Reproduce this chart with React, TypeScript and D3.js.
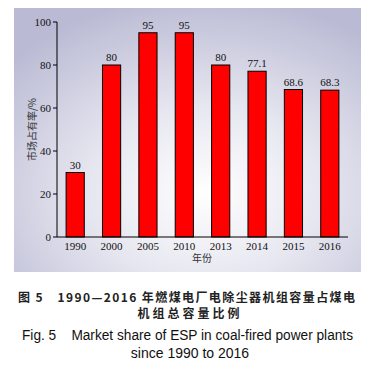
import React from 'react';
import * as d3 from 'd3';

const years = ['1990', '2000', '2005', '2010', '2013', '2014', '2015', '2016'];
const shares = [30, 80, 95, 95, 80, 77.1, 68.6, 68.3];
const shareLabels = ['30', '80', '95', '95', '80', '77.1', '68.6', '68.3'];
const yTicks = [0, 20, 40, 60, 80, 100];

const W = 381;
const H = 368;

const App: React.FC = () => {
  const x = d3.scaleBand<string>().domain(years).range([57, 348]).paddingInner(0.5).paddingOuter(0.25);
  const y = d3.scaleLinear().domain([0, 100]).range([237, 22]);
  const serif = '"Liberation Serif", "DejaVu Serif", serif';

  return (
    <svg width={W} height={H} style={{ position: 'absolute', left: 0, top: 0 }}>
      <defs>
        <radialGradient id="bg" cx="0.55" cy="0.7" r="0.75">
          <stop offset="0" stopColor="#ffffff" />
          <stop offset="0.45" stopColor="#e6e6f0" />
          <stop offset="1" stopColor="#babad4" />
        </radialGradient>
      </defs>
      <rect width={W} height={H} fill="#fff" />
      <rect x={14} y={8} width={347} height={264} fill="url(#bg)" />

      {/* bars */}
      {years.map((yr, i) => (
        <g key={yr}>
          <rect
            x={x(yr)!}
            y={y(shares[i])}
            width={x.bandwidth()}
            height={y(0) - y(shares[i])}
            fill="#ff0000"
            stroke="#000"
            strokeWidth={1}
          />
          <text
            x={x(yr)! + x.bandwidth() / 2}
            y={y(shares[i]) - 4}
            textAnchor="middle"
            fontFamily={serif}
            fontSize={11}
            fill="#111"
          >
            {shareLabels[i]}
          </text>
          <text
            x={x(yr)! + x.bandwidth() / 2}
            y={250}
            textAnchor="middle"
            fontFamily={serif}
            fontSize={11}
            fill="#111"
          >
            {yr}
          </text>
        </g>
      ))}

      {/* axes */}
      <line x1={57} x2={57} y1={y(100)} y2={y(0)} stroke="#000" strokeWidth={1} />
      <line x1={57} x2={348} y1={y(0)} y2={y(0)} stroke="#000" strokeWidth={1} />
      {yTicks.map((t) => (
        <g key={t}>
          <line x1={53} x2={57} y1={y(t)} y2={y(t)} stroke="#000" />
          <text
            x={51}
            y={y(t)}
            dy="0.35em"
            textAnchor="end"
            fontFamily={serif}
            fontSize={11}
            fill="#111"
          >
            {t}
          </text>
        </g>
      ))}
      <text
        transform={`translate(32,${(y(0) + y(100)) / 2}) rotate(-90)`}
        textAnchor="middle"
        dy="0.35em"
        fontFamily={'"Noto Sans CJK SC", serif'}
        fontSize={10}
        fill="#333"
      >
        市场占有率/%
      </text>
      <text x={202} y={262} textAnchor="middle" fontFamily={'"Noto Sans CJK SC", serif'} fontSize={10} fill="#333">
        年份
      </text>

      {/* caption */}
      <text
        x={18}
        y={302}
        fontFamily={'"Noto Sans CJK SC", sans-serif'}
        fontWeight="bold"
        fontSize={12}
        fill="#222"
        textLength={337}
        lengthAdjust="spacing"
      >
        图 5{'\u3000'}1990—2016 年燃煤电厂电除尘器机组容量占煤电
      </text>
      <text
        x={190}
        y={318}
        textAnchor="middle"
        fontFamily={'"Noto Sans CJK SC", sans-serif'}
        fontWeight="bold"
        fontSize={12}
        fill="#222"
        letterSpacing={3}
      >
        机组总容量比例
      </text>
      <text
        x={22}
        y={340}
        fontFamily={'"Liberation Sans", Arial, sans-serif'}
        fontSize={14}
        fill="#111"
        textLength={331}
        lengthAdjust="spacingAndGlyphs"
      >
        {'Fig. 5\u00a0\u00a0\u00a0\u00a0Market share of ESP in coal-fired power plants'}
      </text>
      <text
        x={190}
        y={358}
        textAnchor="middle"
        fontFamily={'"Liberation Sans", Arial, sans-serif'}
        fontSize={14}
        fill="#111"
      >
        since 1990 to 2016
      </text>
    </svg>
  );
};

export default App;
